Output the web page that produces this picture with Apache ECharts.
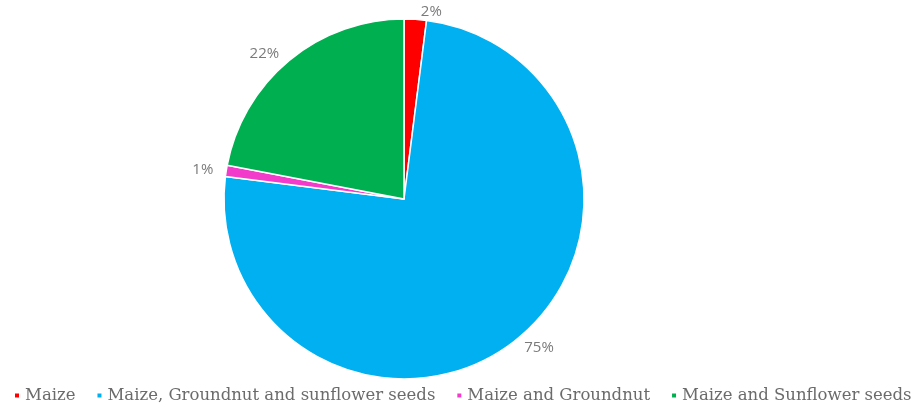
<!DOCTYPE html>
<html><head><meta charset="utf-8">
<script src="https://cdn.jsdelivr.net/npm/echarts@6/dist/echarts.min.js"></script>
<style>html,body{margin:0;padding:0;background:#fff}#c{width:919px;height:408px}</style>
</head><body><div id="c"></div>
<script>
const categories = ["Maize", "Maize, Groundnut and sunflower seeds", "Maize and Groundnut", "Maize and Sunflower seeds"];
const values = [2, 75, 1, 22];
const colors = ["#FF0000", "#00B0F0", "#F23BCB", "#00B050"];

const chart = echarts.init(document.getElementById('c'));
chart.setOption({
  animation: false,
  color: colors,
  legend: {
    bottom: 4,
    left: 13,
    right: 0,
    padding: 0,
    icon: 'rect',
    itemWidth: 6,
    itemHeight: 6,
    itemGap: 20,
    textStyle: { fontFamily: 'DejaVu Serif', fontSize: 16.5, color: '#6b6b6b' },
    data: categories
  },
  series: [{
    type: 'pie',
    center: [404, 199],
    radius: [0, 180],
    startAngle: 90,
    clockwise: true,
    itemStyle: { borderColor: '#fff', borderWidth: 1.5 },
    label: {
      show: true,
      position: 'outside',
      formatter: '{d}%',
      fontFamily: 'Open Sans',
      fontSize: 15,
      color: '#7a7a7a'
    },
    labelLine: { show: false, length: 8, length2: 0 },
    data: categories.map((n, i) => ({ name: n, value: values[i] }))
  }]
});
</script></body></html>
